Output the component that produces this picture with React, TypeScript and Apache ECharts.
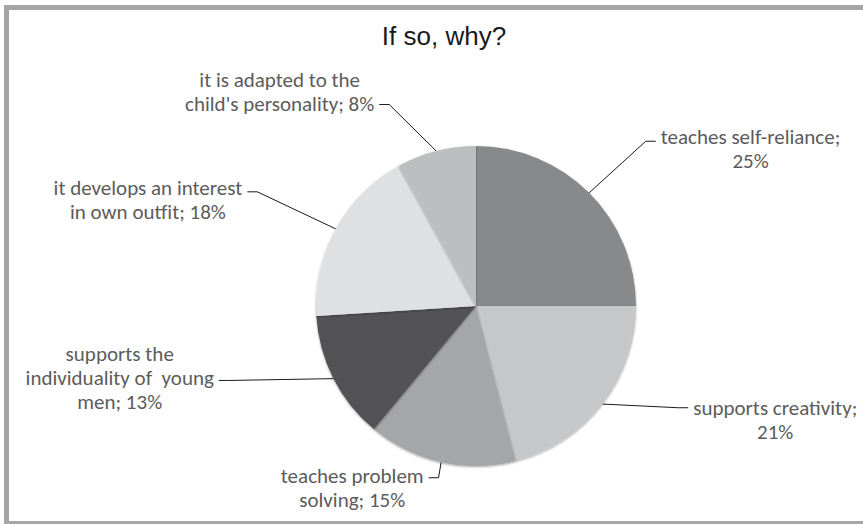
import React, { useEffect, useRef } from "react";
import * as echarts from "echarts";

// ---- data ----
const categories: string[] = [
  "teaches self-reliance",
  "supports creativity",
  "teaches problem\nsolving",
  "supports the\nindividuality of  young\nmen",
  "it develops an interest\nin own outfit",
  "it is adapted to the\nchild's personality",
];
const values: number[] = [25, 21, 15, 13, 18, 8];
const titleText = "If so, why?";

// ---- styles ----
const sliceColors = ["#88898b", "#c6c7c9", "#a5a6a8", "#525254", "#dfe0e2", "#bdbec0"];
const lineLength = [73, 6, 16, 4, 77, 48];
const lineLength2 = [15, 81, 9, 111, 21, 45];
const labelShift = [8, 12, 10, -2, 8, -13];

const LABEL_FONT = "Carlito, Calibri, Lato, 'Noto Sans', sans-serif";

function labelText(name: string, v: number): string {
  const full = name.indexOf("\n") >= 0 ? `${name}; ${v}%` : `${name};\n${v}%`;
  return full
    .split("\n")
    .map((l) => `{c|${l}}`)
    .join("\n");
}

export default function App() {
  const ref = useRef<HTMLDivElement>(null);
  useEffect(() => {
    if (!ref.current) return;
    const chart = echarts.init(ref.current, null, { renderer: "svg" });
    const data = categories.map((name, i) => {
      const s = labelShift[i];
      return {
        name,
        value: values[i],
        itemStyle: { color: sliceColors[i] },
        label: { padding: s >= 0 ? [2 * s, 0, 0, 0] : [0, 0, -2 * s, 0] },
        labelLine: { length: lineLength[i], length2: lineLength2[i] },
      };
    });
    chart.setOption({
      animation: false,
      backgroundColor: "#ffffff",
      title: {
        text: titleText,
        left: 439,
        textAlign: "center",
        top: 18,
        textStyle: {
          fontFamily: "'Liberation Sans', Arial, sans-serif",
          fontSize: 26,
          fontWeight: "normal",
          color: "#1a1a1a",
        },
      },
      graphic: [
        {
          type: "rect",
          shape: { x: 6.5, y: 7.5, width: 870, height: 516 },
          style: { fill: "none", stroke: "#a6a6a6", lineWidth: 5 },
          silent: true,
        },
      ],
      series: [
        {
          type: "pie",
          center: [476, 306],
          radius: 160,
          startAngle: 90,
          clockwise: true,
          avoidLabelOverlap: false,
          itemStyle: {
            borderWidth: 0,
            shadowBlur: 2,
            shadowOffsetY: 1,
            shadowColor: "rgba(0,0,0,0.35)",
          },
          label: {
            show: true,
            position: "outside",
            distanceToLabelLine: 5,
            formatter: (p: any) => labelText(p.name, p.value),
            rich: {
              c: {
                align: "center",
                fontFamily: LABEL_FONT,
                fontSize: 21,
                lineHeight: 24,
                color: "#5c5c5c",
              },
            },
          },
          labelLine: {
            show: true,
            smooth: false,
            lineStyle: { color: "#1a1a1a", width: 1 },
          },
          labelLayout: (params: any) => {
            const pts = params.labelLinePoints;
            if (!pts || pts.length < 3) return {};
            const p0 = pts[0];
            const p2 = pts[2];
            const dir = p2[0] < p0[0] ? 1 : -1;
            return { labelLinePoints: [p0, [p2[0] + dir * 10, p2[1]], p2] };
          },
          emphasis: { disabled: true },
          data,
        },
      ],
    });
    return () => chart.dispose();
  }, []);
  return (
    <div
      ref={ref}
      style={{ position: "absolute", left: 0, top: 0, width: 863, height: 524 }}
    />
  );
}
